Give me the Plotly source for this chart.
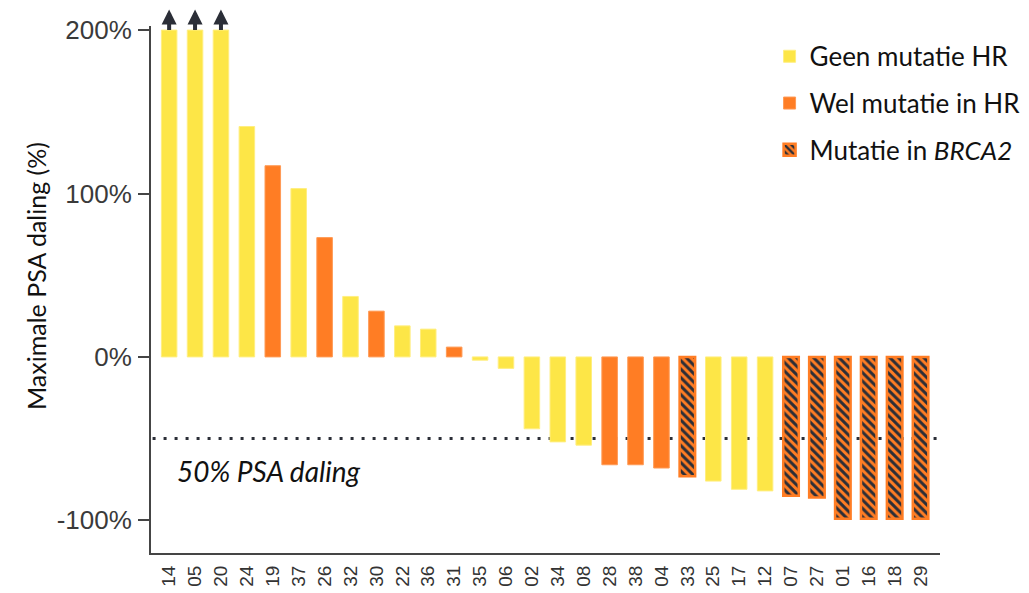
import plotly.graph_objects as go

# ---- data ----
patients = ['14', '05', '20', '24', '19', '37', '26', '32', '30', '22',
            '36', '31', '35', '06', '02', '34', '08', '28', '38', '04',
            '33', '25', '17', '12', '07', '27', '01', '16', '18', '29']
psa_change = [200, 200, 200, 141, 117, 103, 73, 37, 28, 19,
              17, 6, -2, -7, -44, -52, -54, -66, -66, -68,
              -73, -76, -81, -82, -85, -86, -99, -99, -99, -99]
groups = ['geen', 'geen', 'geen', 'geen', 'wel', 'geen', 'wel', 'geen', 'wel', 'geen',
          'geen', 'wel', 'geen', 'geen', 'geen', 'geen', 'geen', 'wel', 'wel', 'wel',
          'brca2', 'geen', 'geen', 'geen', 'brca2', 'brca2', 'brca2', 'brca2', 'brca2', 'brca2']
exceeds_axis = [True, True, True, False, False, False, False, False, False, False,
                False, False, False, False, False, False, False, False, False, False,
                False, False, False, False, False, False, False, False, False, False]
group_keys = ['geen', 'wel', 'brca2']
group_names = ['Geen mutatie HR', 'Wel mutatie in HR', 'Mutatie in <i>BRCA2</i>']
threshold = -50
threshold_label = '50% PSA daling'
y_tickvals = [-100, 0, 100, 200]
y_ticktext = ['-100%', '0%', '100%', '200%']

# ---- styles ----
YELLOW = '#FDE647'
ORANGE = '#FF7D24'
DARK = '#2B2E37'
AXIS = '#454545'
styles = {
    'geen': dict(color=YELLOW, line=dict(color='#FFEE80', width=1)),
    'wel': dict(color=ORANGE, line=dict(color='#FF9A55', width=1)),
    'brca2': dict(color=ORANGE, line=dict(color=ORANGE, width=2.5),
                  pattern=dict(shape='\\', fillmode='overlay', fgcolor=DARK,
                               fgopacity=1, size=6, solidity=0.5)),
}

fig = go.Figure()
for key, name in zip(group_keys, group_names):
    idx = [i for i, g in enumerate(groups) if g == key]
    fig.add_trace(go.Bar(
        x=[patients[i] for i in idx],
        y=[psa_change[i] for i in idx],
        name=name, legendgroup=key, width=0.6,
        marker=styles[key],
    ))

# arrows for values beyond the axis (x given as category index)
for i, (v, flag) in enumerate(zip(psa_change, exceeds_axis)):
    if flag:
        fig.add_annotation(x=i, y=v, xref='x', yref='y', text='', showarrow=True,
                           arrowside='start', arrowhead=2, startarrowhead=2,
                           arrowsize=0.75, startarrowsize=0.75, arrowwidth=4,
                           arrowcolor=DARK, ax=0, ay=-25)

# threshold line
fig.add_shape(type='line', xref='paper', yref='y', x0=0.002, x1=0.996,
              y0=threshold, y1=threshold, layer='below',
              line=dict(color=DARK, width=3, dash='3px,8px'))
fig.add_annotation(xref='paper', yref='y', x=0.031, y=-70, xanchor='left',
                   text='<i>' + threshold_label + '</i>', showarrow=False,
                   font=dict(family='Lato', size=28, color='#111111'))

# y title
fig.add_annotation(xref='paper', yref='paper', x=-0.167, y=0.526, textangle=-90,
                   text='Maximale PSA daling (%)', showarrow=False,
                   font=dict(family='Lato', size=25, color='#111111'))

# page body has an 8px margin, so the figure is 8px smaller than the window
fig.update_layout(
    width=1021, height=585,
    margin=dict(l=143, r=89, t=18, b=40, autoexpand=False),
    plot_bgcolor='white', paper_bgcolor='white',
    barmode='overlay',
    legend=dict(x=0.784, y=0.987, xanchor='left', yanchor='top',
                font=dict(family='Lato', size=26, color='#111111'),
                traceorder='grouped', tracegroupgap=10,
                bgcolor='rgba(0,0,0,0)'),
    xaxis=dict(type='category', categoryorder='array', categoryarray=patients,
               range=[-0.7, 29.75], showline=True, linecolor=AXIS, linewidth=2,
               ticks='', tickangle=-90, showgrid=False, zeroline=False,
               automargin=False,
               tickfont=dict(family='Liberation Sans', size=19, color='#333333'),
               ticklabelstandoff=3),
    yaxis=dict(range=[-120, 202.5], tickvals=y_tickvals, ticktext=y_ticktext,
               ticks='outside', ticklen=11, tickwidth=2, tickcolor=AXIS,
               showline=True, linecolor=AXIS, linewidth=2, showgrid=False,
               zeroline=False, ticklabelstandoff=1, automargin=False,
               tickfont=dict(family='Liberation Sans', size=26, color='#3a3a3a')),
)

fig.write_html('out.html')
